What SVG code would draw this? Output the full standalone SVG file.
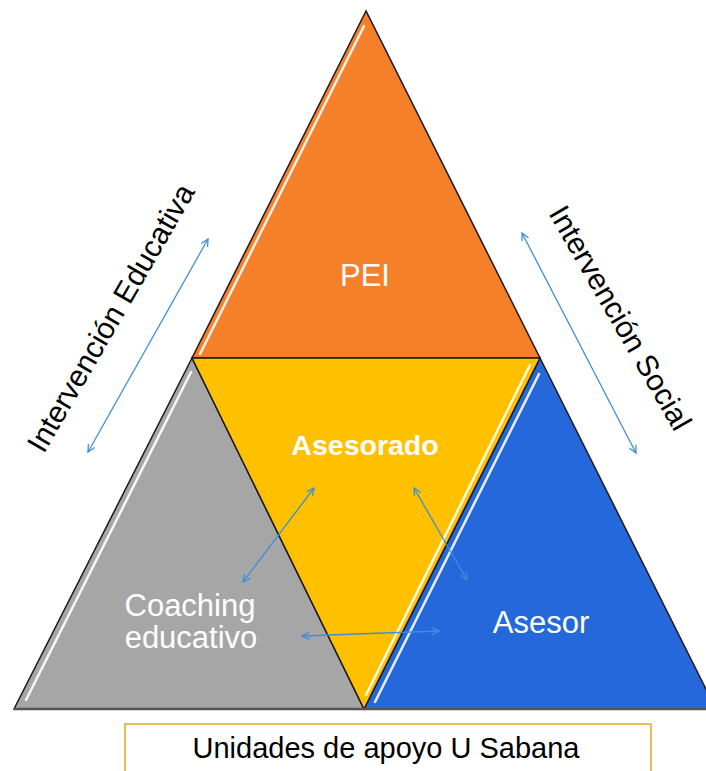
<svg xmlns="http://www.w3.org/2000/svg" width="706" height="771" viewBox="0 0 706 771">
<style>
.edge{stroke:#1a1a1a;stroke-width:1.5;stroke-linejoin:miter}
.hl{stroke:#ffffff;stroke-width:2.5;fill:none;stroke-linecap:round;opacity:0.9}
.lbl{font-family:"Liberation Sans",Arial,sans-serif;fill:#ffffff;text-anchor:middle}
.side{font-family:"Liberation Sans",Arial,sans-serif;fill:#000000;text-anchor:middle;font-size:30px}
.arr{stroke:#3b8fdb;stroke-width:1.3;fill:none;marker-start:url(#ah);marker-end:url(#ah)}
</style>
<defs>
<marker id="ah" viewBox="0 0 10 10" refX="9" refY="5" markerWidth="9" markerHeight="9" markerUnits="userSpaceOnUse" orient="auto-start-reverse">
<path d="M1,1 L9,5 L1,9" fill="none" stroke="#3b8fdb" stroke-width="1.4"/>
</marker>
</defs>
<rect width="706" height="771" fill="#ffffff"/>
<g id="pei">
<polygon class="edge" points="366,11 192,358 540,358" fill="#f67f29"/>
<line class="hl" x1="364" y1="26" x2="200" y2="354"/>
<text class="lbl" x="365" y="286" font-size="31">PEI</text>
</g>
<g id="coaching">
<polygon class="edge" points="192,358 14,709 364,709" fill="#a6a6a6"/>
<line class="hl" x1="191" y1="372" x2="26" y2="700"/>
<text class="lbl" x="190" y="616" font-size="31">Coaching</text>
<text class="lbl" x="191" y="648" font-size="31">educativo</text>
</g>
<g id="asesor">
<polygon class="edge" points="540,358 716,709 364,709" fill="#2468dc"/>
<line class="hl" x1="539" y1="374" x2="375" y2="702"/>
<text class="lbl" x="541" y="633" font-size="31">Asesor</text>
</g>
<g id="asesorado">
<polygon class="edge" points="192,358 540,358 364,709" fill="#ffc000"/>
<line class="hl" x1="530" y1="365" x2="366" y2="695"/>
<text class="lbl" x="365" y="455" font-size="28.5" font-weight="bold">Asesorado</text>
</g>
<line x1="14" y1="709" x2="706" y2="709" stroke="#555555" stroke-width="2.5"/>
<g id="label-educativa">
<text class="side" transform="translate(111,318) rotate(-60)" y="10">Intervención Educativa</text>
</g>
<g id="label-social">
<text class="side" transform="translate(620,318) rotate(60)" y="10">Intervención Social</text>
</g>
<g id="footer">
<rect x="125" y="724" width="526" height="60" fill="none" stroke="#e6a520" stroke-width="1.5"/>
<text x="386" y="758" font-family="Liberation Sans,Arial,sans-serif" font-size="29" text-anchor="middle" fill="#000">Unidades de apoyo U Sabana</text>
</g>
<g id="connectors">
<line class="arr" x1="88" y1="452" x2="208" y2="239"/>
<line class="arr" x1="522" y1="233" x2="636" y2="453"/>
<line class="arr" x1="314" y1="488" x2="243" y2="582"/>
<line class="arr" x1="414" y1="488" x2="467" y2="580"/>
<line class="arr" x1="302" y1="636" x2="439" y2="631"/>
</g>
</svg>
